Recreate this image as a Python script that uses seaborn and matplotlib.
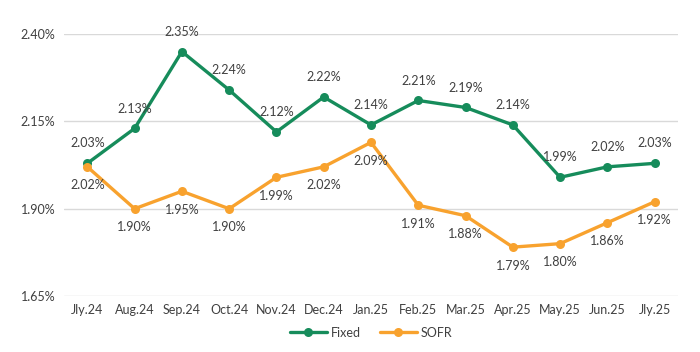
import pandas as pd
import seaborn as sns
import matplotlib.pyplot as plt

# Chart data
months = ['Jly.24', 'Aug.24', 'Sep.24', 'Oct.24', 'Nov.24', 'Dec.24', 'Jan.25',
          'Feb.25', 'Mar.25', 'Apr.25', 'May.25', 'Jun.25', 'Jly.25']
fixed = [2.03, 2.13, 2.35, 2.24, 2.12, 2.22, 2.14, 2.21, 2.19, 2.14, 1.99, 2.02, 2.03]
sofr = [2.02, 1.90, 1.95, 1.90, 1.99, 2.02, 2.09, 1.91, 1.88, 1.79, 1.80, 1.86, 1.92]
y_ticks = [1.65, 1.90, 2.15, 2.40]

green = '#168c5b'
orange = '#f8a22e'
text_col = '#404040'

df = pd.DataFrame({
    'month': months * 2,
    'rate': fixed + sofr,
    'series': ['Fixed'] * len(months) + ['SOFR'] * len(months),
})

sns.set_style('white')
plt.rcParams['font.family'] = ['Lato', 'DejaVu Sans']

fig = plt.figure(figsize=(7, 3.52), dpi=100)
ax = fig.add_axes([0.091, 0.159, 0.878, 0.744])

sns.lineplot(data=df, x='month', y='rate', hue='series', sort=False,
             palette={'Fixed': green, 'SOFR': orange}, marker='o',
             markersize=6.5, markeredgewidth=0, linewidth=2.4, ax=ax)

# Data labels: Fixed above, SOFR below
for i, v in enumerate(fixed):
    ax.annotate(f'{v:.2f}%', (i, v), xytext=(0, 10), textcoords='offset points',
                ha='center', va='bottom', fontsize=9, color=text_col)
for i, v in enumerate(sofr):
    ax.annotate(f'{v:.2f}%', (i, v), xytext=(0, -9), textcoords='offset points',
                ha='center', va='top', fontsize=9, color=text_col)

ax.set_ylim(1.65, 2.40)
ax.set_yticks(y_ticks)
ax.set_yticklabels([f'{t:.2f}%' for t in y_ticks])
ax.set_xlim(-0.5, len(months) - 0.5)
ax.grid(axis='y', color='#d9d9d9', linewidth=1)
ax.set_axisbelow(True)
for s in ax.spines.values():
    s.set_visible(False)
ax.tick_params(axis='both', length=0, labelsize=9, colors=text_col, pad=6)
ax.set_xlabel('')
ax.set_ylabel('')

handles, labels = ax.get_legend_handles_labels()
ax.legend(handles, labels, loc='center', bbox_to_anchor=(0.5, -0.14),
          ncol=2, frameon=False, fontsize=9, labelcolor=text_col,
          handlelength=3, columnspacing=1.5, handletextpad=0.3)

plt.savefig('out.png', dpi=100)
